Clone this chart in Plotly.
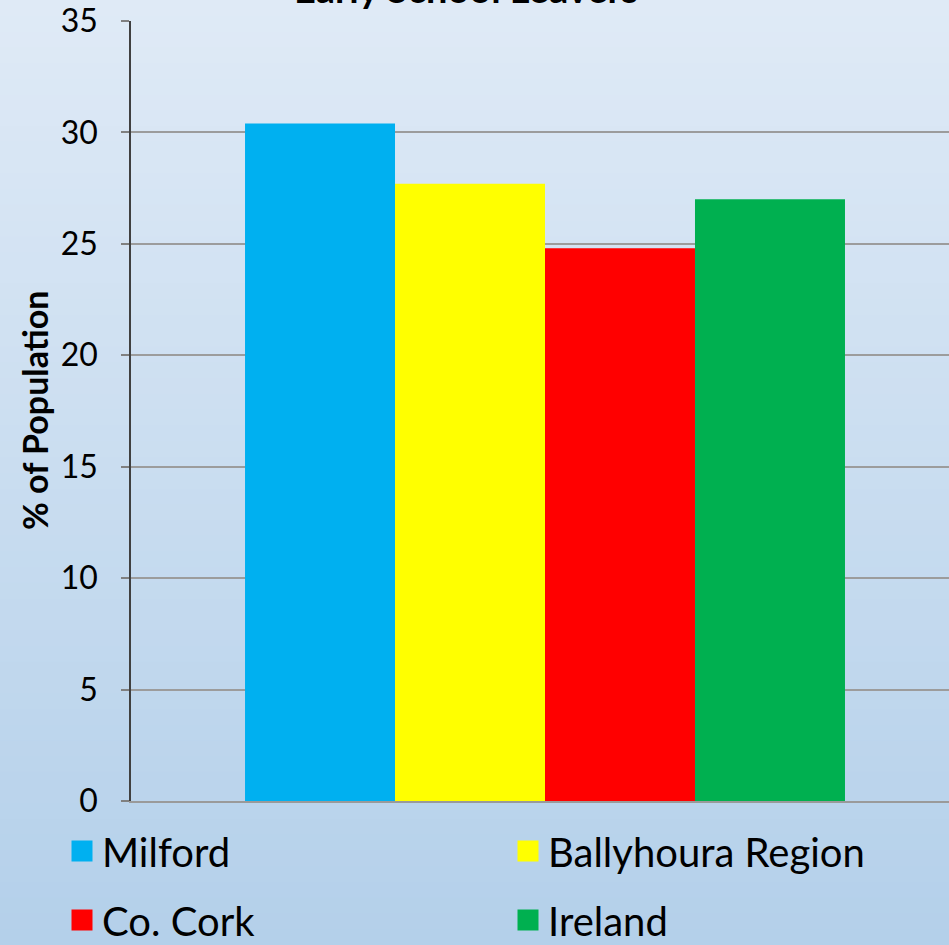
import plotly.graph_objects as go

# ---- data ----
categories = ["Early School Leavers"]
series_names = ["Milford", "Ballyhoura Region", "Co. Cork", "Ireland"]
values = [30.4, 27.7, 24.8, 27.0]
series_colors = ["#00B0F0", "#FFFF00", "#FF0000", "#00B050"]
y_ticks = [0, 5, 10, 15, 20, 25, 30, 35]

W, H = 949, 945
ML, MR, MT, MB = 131, 0, 21, 144
PW, PH = W - ML - MR, H - MT - MB

FONT = "Lato, 'Open Sans', sans-serif"

fig = go.Figure()

for name, val, col in zip(series_names, values, series_colors):
    fig.add_trace(go.Bar(x=categories, y=[val], name=name, marker_color=col,
                         marker_line_width=0, showlegend=False))

# legend proxies (each in its own legend for 2x2 placement)
legend_ids = ["legend", "legend2", "legend3", "legend4"]
for name, col, lid in zip(series_names, series_colors, legend_ids):
    fig.add_trace(go.Scatter(x=[None], y=[None], mode="markers", name=name,
                             marker=dict(symbol="square", size=16, color=col,
                                         line=dict(color=col, width=5)),
                             legend=lid, showlegend=True))

# background gradient (style only)
top_rgb = (223, 234, 246)
bot_rgb = (180, 208, 234)
n_bands = 60
x0p = -ML / PW
x1p = 1 + MR / PW
y_top = 1 + MT / PH
y_bot = -MB / PH
for i in range(n_bands):
    t = i / (n_bands - 1)
    c = tuple(int(round(top_rgb[k] + (bot_rgb[k] - top_rgb[k]) * t)) for k in range(3))
    ya = y_top - (y_top - y_bot) * i / n_bands
    yb = y_top - (y_top - y_bot) * (i + 1) / n_bands
    fig.add_shape(type="rect", xref="paper", yref="paper", x0=x0p, x1=x1p,
                  y0=yb - 0.002, y1=ya, fillcolor="rgb(%d,%d,%d)" % c,
                  line_width=0, layer="below")

def px_to_py(py):
    return (H - MB - py) / PH

def px_to_px(px):
    return (px - ML) / PW

legend_pos = [(62, 851), (508, 851), (62, 920), (508, 920)]
legend_layout = {}
for lid, (lx, ly) in zip(legend_ids, legend_pos):
    legend_layout[lid] = dict(x=px_to_px(lx), y=px_to_py(ly), xanchor="left",
                              yanchor="middle", bgcolor="rgba(0,0,0,0)",
                              font=dict(family=FONT, size=40, color="black"),
                              itemsizing="trace")

fig.update_layout(
    width=W, height=H,
    margin=dict(l=ML, r=MR, t=MT, b=MB, pad=0, autoexpand=False),
    paper_bgcolor="#cfe0f1",
    plot_bgcolor="rgba(0,0,0,0)",
    barmode="group",
    bargap=0.2754,
    bargroupgap=0,
    font=dict(family=FONT, color="black"),
    **legend_layout,
)

fig.update_xaxes(type="category", range=[-0.5, 0.48792], showticklabels=False,
                 ticks="", showgrid=False, showline=True, linecolor="#9a9a9a",
                 linewidth=1.5, zeroline=False, automargin=False)
fig.update_yaxes(range=[0, 35], tickvals=y_ticks, showgrid=True,
                 gridcolor="#9c9c9c", gridwidth=1.5, zeroline=False,
                 showline=True, linecolor="#404040", linewidth=1.5,
                 ticks="outside", ticklen=8, tickwidth=1.5, tickcolor="#808080",
                 ticklabelstandoff=17, automargin=False,
                 tickfont=dict(family=FONT, size=32, color="black"))

# y-axis title as rotated annotation for exact placement
fig.add_annotation(text="<b>% of Population</b>", xref="paper", yref="paper",
                   x=px_to_px(34), y=px_to_py(411), xanchor="center", yanchor="middle",
                   textangle=-90, showarrow=False,
                   font=dict(family=FONT, size=34, color="black"))

fig.add_annotation(text="<b>Early School Leavers</b>", xref="paper", yref="paper",
                   x=px_to_px(466), y=px_to_py(13), xanchor="center", yanchor="bottom",
                   showarrow=False, font=dict(family=FONT, size=38, color="black"))

fig.write_html("out.html", config={"displayModeBar": False},
               post_script="document.body.style.margin='0';")
